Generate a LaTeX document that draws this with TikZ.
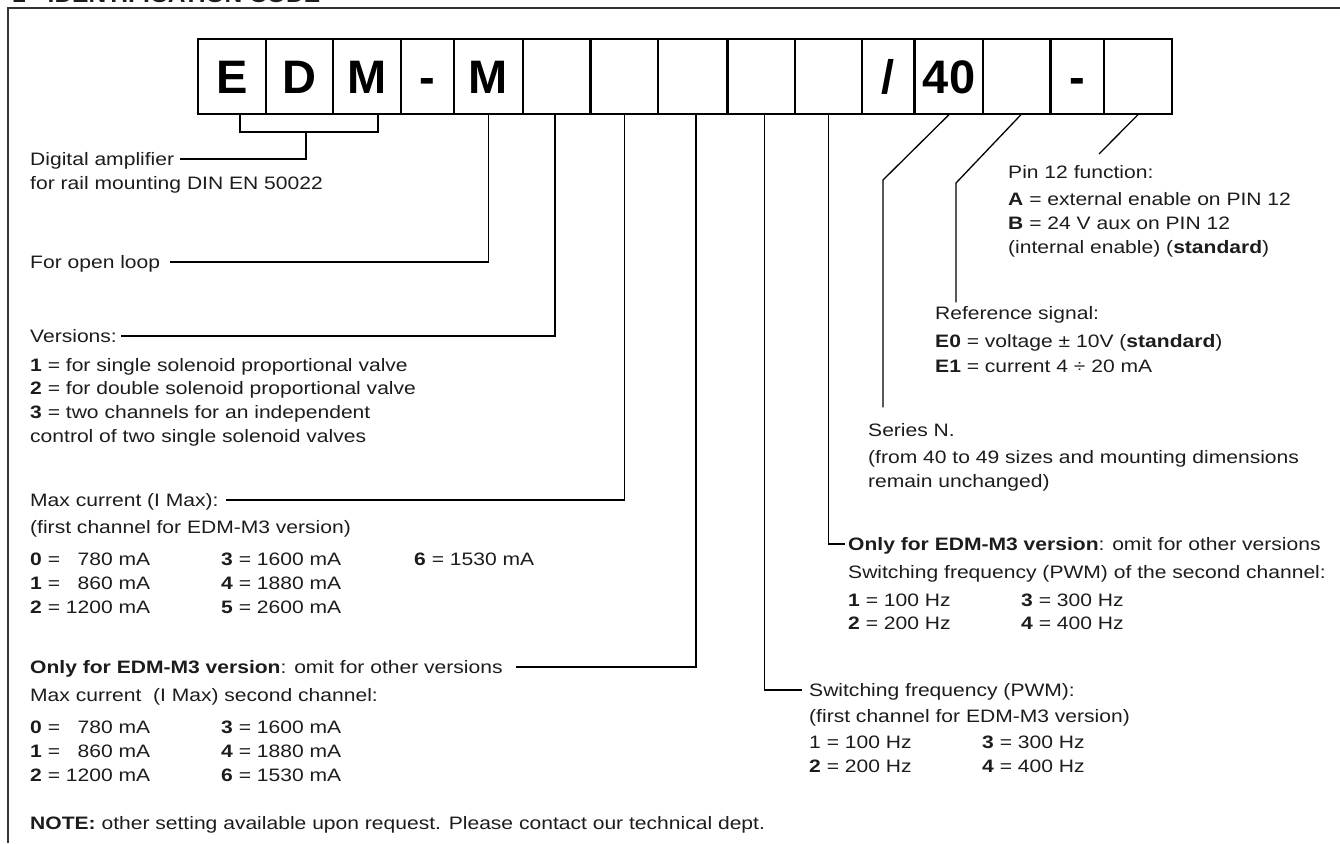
\documentclass[tikz,border=0pt]{standalone}
\usepackage{fontspec}
\setmainfont{Liberation Sans}[FakeStretch=1.17]
\newfontfamily\cellfamily{Liberation Sans}
\newcommand\bodyfont{\fontsize{18}{22}\selectfont}
\newcommand\cellfnt{\cellfamily\bfseries\fontsize{47}{50}\selectfont}
\definecolor{ink}{RGB}{28,28,28}
\tikzset{
  txt/.style={anchor=west, inner sep=0pt, text height=13pt, text depth=0pt, font=\bodyfont, text=ink},
  cell/.style={draw=black, line width=1.3pt, minimum height=75pt, inner sep=0pt,
               text height=34pt, text depth=0pt, font=\cellfnt, text=black},
  conn/.style={line width=1.3pt, draw=black},
  sep/.style={line width=2.6pt, draw=black},
  frame/.style={line width=2.6pt, draw=black!80},
}
\begin{document}
\begin{tikzpicture}[x=1pt, y=-1pt]
\useasboundingbox (0,0) rectangle (1340,843);

% frame (open at right and bottom)
\draw[frame] (8,843) -- (8,8) -- (1340,8);
\node[anchor=base west, inner sep=0pt, font=\bfseries\fontsize{21}{21}\selectfont, text=ink] (title) at (12,3) {1 - IDENTIFICATION CODE};

% code cells
\node[cell, minimum width=68pt] (b1)  at (232,76.5)   {E};
\node[cell, minimum width=67pt] (b2)  at (299.5,76.5) {D};
\node[cell, minimum width=68pt] (b3)  at (367,76.5)   {M};
\node[cell, minimum width=53pt] (b4)  at (427.5,76.5) {-};
\node[cell, minimum width=69pt] (b5)  at (488.5,76.5) {M};
\node[cell, minimum width=68pt] (b6)  at (557,76.5)   {};
\node[cell, minimum width=67pt] (b7)  at (624.5,76.5) {};
\node[cell, minimum width=70pt] (b8)  at (693,76.5)   {};
\node[cell, minimum width=67pt] (b9)  at (761.5,76.5) {};
\node[cell, minimum width=67pt] (b10) at (828.5,76.5) {};
\node[cell, minimum width=53pt] (b11) at (888.5,76.5) {/};
\node[cell, minimum width=68pt] (b12) at (949,76.5)   {40};
\node[cell, minimum width=68pt] (b13) at (1017,76.5)  {};
\node[cell, minimum width=53pt] (b14) at (1077.5,76.5){-};
\node[cell, minimum width=68pt] (b15) at (1138,76.5)  {};
\foreach \b in {b7,b9,b12,b14}{\draw[sep] (\b.north west) -- (\b.south west);}

% left texts
\node[txt] (dig1) at (30,159) {Digital amplifier};
\node[txt] (dig2) at (30,183) {for rail mounting DIN EN 50022};
\node[txt] (open) at (30,262) {For open loop};
\node[txt] (ver)  at (30,336) {Versions:};
\node[txt] (ver1) at (30,365) {\textbf{1} = for single solenoid proportional valve};
\node[txt] (ver2) at (30,388) {\textbf{2} = for double solenoid proportional valve};
\node[txt] (ver3) at (30,412) {\textbf{3} = two channels for an independent};
\node[txt] (ver4) at (30,436) {control of two single solenoid valves};

\node[txt] (mc)   at (30,500) {Max current (I Max):};
\node[txt] (mc2)  at (30,527) {(first channel for EDM-M3 version)};
\node[txt] (mca0) at (30,559) {\textbf{0} = \hphantom{1}780 mA};
\node[txt] (mca1) at (30,583) {\textbf{1} = \hphantom{1}860 mA};
\node[txt] (mca2) at (30,607) {\textbf{2} = 1200 mA};
\node[txt] (mcb3) at (221,559) {\textbf{3} = 1600 mA};
\node[txt] (mcb4) at (221,583) {\textbf{4} = 1880 mA};
\node[txt] (mcb5) at (221,607) {\textbf{5} = 2600 mA};
\node[txt] (mcc6) at (414,559) {\textbf{6} = 1530 mA};

\node[txt] (m3)   at (30,667) {\textbf{Only for EDM-M3 version}: omit for other versions};
\node[txt] (m3b)  at (30,695) {Max current \ (I Max) second channel:};
\node[txt] (m3a0) at (30,727) {\textbf{0} = \hphantom{1}780 mA};
\node[txt] (m3a1) at (30,751) {\textbf{1} = \hphantom{1}860 mA};
\node[txt] (m3a2) at (30,775) {\textbf{2} = 1200 mA};
\node[txt] (m3b3) at (221,727) {\textbf{3} = 1600 mA};
\node[txt] (m3b4) at (221,751) {\textbf{4} = 1880 mA};
\node[txt] (m3b6) at (221,775) {\textbf{6} = 1530 mA};

\node[txt] (note) at (30,823) {\textbf{NOTE:} other setting available upon request. Please contact our technical dept.};

% right texts
\node[txt] (pin)  at (1008,172) {Pin 12 function:};
\node[txt] (pinA) at (1008,199) {\textbf{A} = external enable on PIN 12};
\node[txt] (pinB) at (1008,223) {\textbf{B} = 24 V aux on PIN 12};
\node[txt] (pinC) at (1008,247) {(internal enable) (\textbf{standard})};

\node[txt] (ref)  at (935,313) {Reference signal:};
\node[txt] (refa) at (935,341) {\textbf{E0} = voltage ± 10V (\textbf{standard})};
\node[txt] (refb) at (935,366) {\textbf{E1} = current 4 ÷ 20 mA};

\node[txt] (ser)  at (868,430) {Series N.};
\node[txt] (ser2) at (868,457) {(from 40 to 49 sizes and mounting dimensions};
\node[txt] (ser3) at (868,481) {remain unchanged)};

\node[txt] (om)   at (848,544) {\textbf{Only for EDM-M3 version}: omit for other versions};
\node[txt] (om2)  at (848,572) {Switching frequency (PWM) of the second channel:};
\node[txt] (omf1) at (848,600) {\textbf{1} = 100 Hz};
\node[txt] (omf2) at (848,623) {\textbf{2} = 200 Hz};
\node[txt] (omf3) at (1021,600) {\textbf{3} = 300 Hz};
\node[txt] (omf4) at (1021,623) {\textbf{4} = 400 Hz};

\node[txt] (sw)   at (809,690) {Switching frequency (PWM):};
\node[txt] (sw2)  at (809,716) {(first channel for EDM-M3 version)};
\node[txt] (swf1) at (809,742) {1 = 100 Hz};
\node[txt] (swf2) at (809,766) {\textbf{2} = 200 Hz};
\node[txt] (swf3) at (982,742) {\textbf{3} = 300 Hz};
\node[txt] (swf4) at (982,766) {\textbf{4} = 400 Hz};

% connectors
\coordinate (brm) at (306,132);
\draw[conn] ([xshift=8pt]b1.south) |- ([xshift=11pt]b3.south |- brm) -- ([xshift=11pt]b3.south);
\draw[conn] ([xshift=6pt]dig1.east) -| (brm);
\draw[conn] ([xshift=10pt]open.east) -| (b5.south);
\draw[conn] ([xshift=4pt]ver.east) -| ([xshift=-2pt]b6.south);
\draw[conn] ([xshift=7pt]mc.east) -| (b7.south);
\draw[conn] ([xshift=13pt]m3.east) -| ([xshift=3pt]b8.south);
\draw[conn] ([xshift=3pt]b9.south) |- ([xshift=-7pt]sw.west);
\draw[conn] (b10.south) |- ([xshift=-3pt]om.west);

\coordinate (serk) at (883,180);
\draw[conn] (b12.south) -- (serk) -- ([yshift=16pt]serk |- ser.north);
\coordinate (refk) at (956,183);
\draw[conn] ([xshift=4pt]b13.south) -- (refk) -- ([yshift=4pt]refk |- ref.north);
\coordinate (pink) at (1099,154);
\draw[conn] (b15.south) -- (pink);
\end{tikzpicture}
\end{document}
